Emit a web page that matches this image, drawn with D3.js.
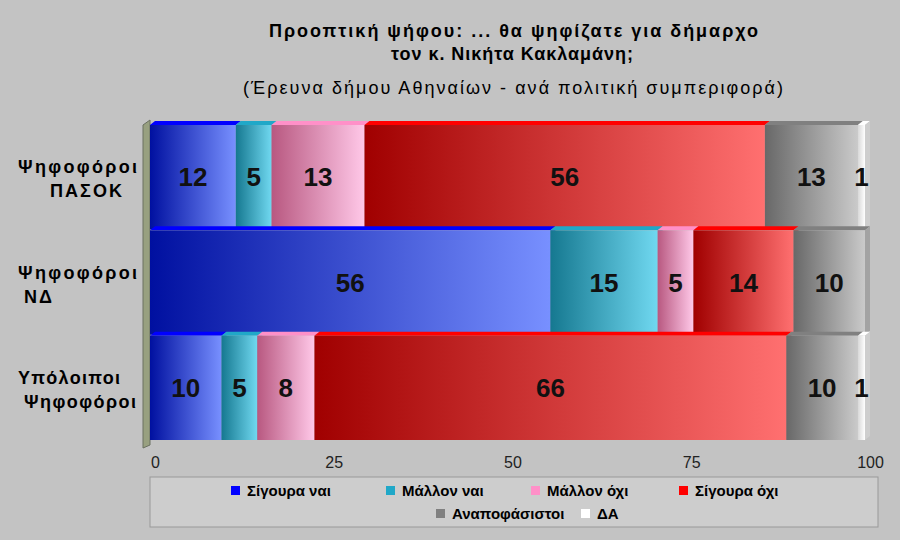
<!DOCTYPE html><html><head><meta charset="utf-8">
<script src="https://cdn.jsdelivr.net/npm/d3@7"></script>
<style>body{margin:0;background:#c3c3c3}</style></head><body>
<svg id="c" width="900" height="540"></svg>
<script>
const categories=["Ψηφοφόροι\nΠΑΣΟΚ","Ψηφοφόροι\nΝΔ","Υπόλοιποι\nΨηφοφόροι"];
const seriesNames=["Σίγουρα ναι","Μάλλον ναι","Μάλλον όχι","Σίγουρα όχι","Αναποφάσιστοι","ΔΑ"];
const sureYes=[12,56,10];
const maybeYes=[5,15,5];
const maybeNo=[13,5,8];
const sureNo=[56,14,66];
const undecided=[13,10,10];
const noAnswer=[1,0,1];
const ticks=[0,25,50,75,100];
const series=[sureYes,maybeYes,maybeNo,sureNo,undecided,noAnswer];
const cols=[["#0010a0","#7890ff","#0000ff"],["#157890","#70d8f0","#20a8c8"],["#b85880","#ffc8e8","#ff90c8"],["#a00000","#ff7070","#ff0000"],["#686868","#cacaca","#808080"],["#d8d8d8","#ffffff","#ffffff"]];
const F="Arial, Liberation Sans";
const svg=d3.select("#c");
svg.append("rect").attr("width",900).attr("height",540).attr("fill","#c3c3c3");
const defs=svg.append("defs");
cols.forEach((c,i)=>{const g=defs.append("linearGradient").attr("id","g"+i);
g.append("stop").attr("offset","0").attr("stop-color",c[0]);g.append("stop").attr("offset","1").attr("stop-color",c[1]);});
const x=d3.scaleLinear().domain([0,100]).range([150,865]);
const y=d3.scaleBand().domain(d3.range(3)).range([125,440]).paddingInner(0.01);
const t=svg.append("g").attr("font-family",F);
t.append("text").attr("x",269).attr("y",37).attr("font-size",18).attr("font-weight","bold").attr("textLength",489).text("Προοπτική ψήφου: ... θα ψηφίζατε για δήμαρχο");
t.append("text").attr("x",391).attr("y",60).attr("font-size",18).attr("font-weight","bold").attr("textLength",242).text("τον κ. Νικήτα Κακλαμάνη;");
t.append("text").attr("x",243).attr("y",94).attr("font-size",18).attr("textLength",540).text("(Έρευνα δήμου Αθηναίων - ανά πολιτική συμπεριφορά)");
svg.append("path").attr("d",`M143,125 L150,120 L150,445 L143,448 Z`).attr("fill","#98a080").attr("stroke","#6a7060");
const catX=[[18,50],[18,24],[18,24]], catW=[[119,72],[119,28],[102,112]];
categories.forEach((cat,ci)=>{
  let acc=0;
  series.forEach((s,si)=>{const v=s[ci];if(!v)return;
    const x0=x(acc),x1=x(acc+v),y0=y(ci),h=y.bandwidth();
    svg.append("path").attr("d",`M${x0},${y0} L${x0+5},${y0-4} L${x1+5},${y0-4} L${x1},${y0} Z`).attr("fill",cols[si][2]);
    svg.append("path").attr("d",`M${x1},${y0} L${x1+5},${y0-4} L${x1+5},${y0+h-4} L${x1},${y0+h} Z`).attr("fill",d3.color(cols[si][1]).darker(0.6));
    svg.append("rect").attr("x",x0).attr("y",y0).attr("width",x1-x0).attr("height",h).attr("fill",`url(#g${si})`);
    svg.append("text").attr("x",(x0+x1)/2).attr("y",y0+h/2+9).attr("text-anchor","middle").attr("font-family",F).attr("font-weight","bold").attr("font-size",26).attr("fill","#111").text(v);
    acc+=v;});
  cat.split("\n").forEach((l,li)=>svg.append("text").attr("x",catX[ci][li]).attr("y",y(ci)+y.bandwidth()/2-4+li*24).attr("font-family",F).attr("font-weight","bold").attr("font-size",18).attr("textLength",catW[ci][li]).text(l));
});
const ax=svg.append("g").attr("transform","translate(5,447)").call(d3.axisBottom(x).tickValues(ticks).tickSize(0).tickPadding(10));
ax.select(".domain").remove();
ax.selectAll("text").attr("font-size",16).attr("font-family",F).attr("fill","#222");
svg.append("rect").attr("x",150).attr("y",477).attr("width",728).attr("height",50).attr("fill","#cdcdcd").attr("stroke","#999");
const lp=[[255,492],[410,492],[555,492],[703,492],[460,515],[605,515]];
seriesNames.forEach((n,i)=>{const g=svg.append("g").attr("transform",`translate(${lp[i][0]},${lp[i][1]})`);
g.append("rect").attr("x",-24).attr("y",-6).attr("width",9).attr("height",9).attr("fill",cols[i][2]);
g.append("text").attr("x",-8).attr("y",4).attr("font-family",F).attr("font-weight","bold").attr("font-size",15).text(n);});
</script></body></html>
